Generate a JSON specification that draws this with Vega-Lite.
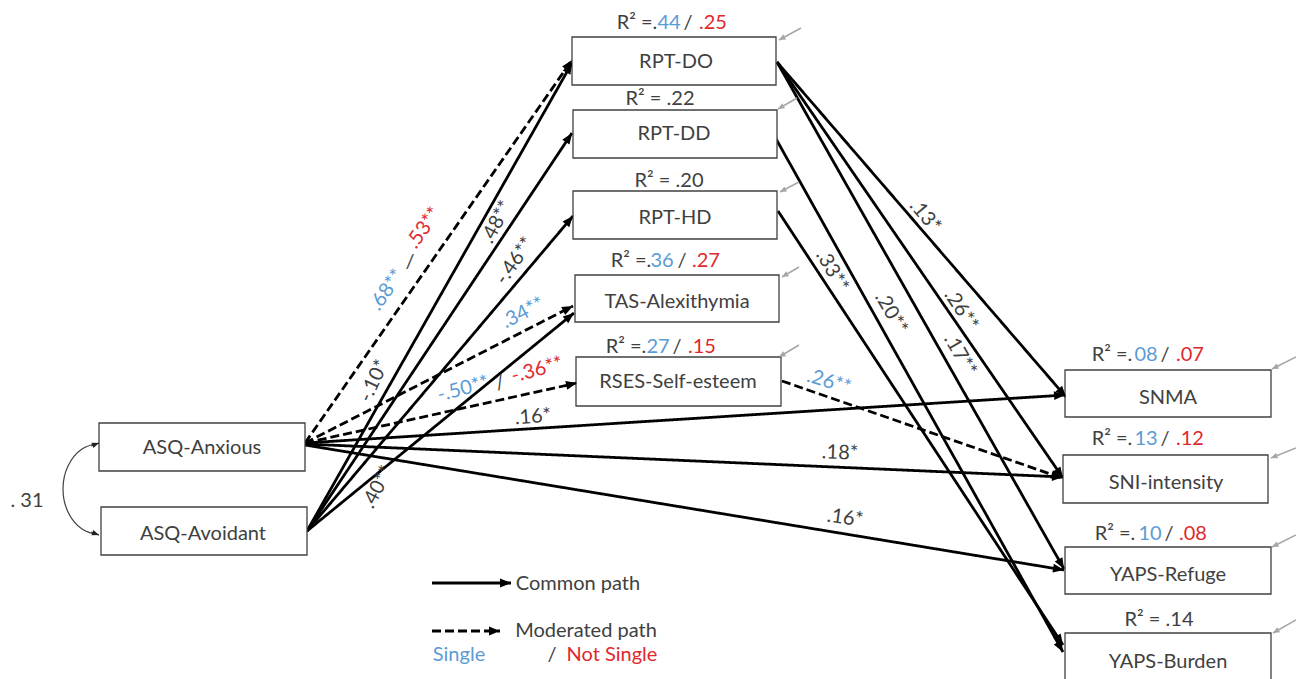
{
  "$schema": "https://vega.github.io/schema/vega-lite/v6.json",
  "width": 1296,
  "height": 679,
  "padding": 0,
  "autosize": {"type": "none"},
  "background": "white",
  "config": {"view": {"stroke": null}},
  "datasets": {
    "boxes": [
      {"n": "RPT-DO", "x1": 572, "x2": 776, "y1": 37, "y2": 85},
      {"n": "RPT-DD", "x1": 573, "x2": 777, "y1": 110, "y2": 158},
      {"n": "RPT-HD", "x1": 573, "x2": 777, "y1": 191, "y2": 239},
      {"n": "TAS", "x1": 575, "x2": 779, "y1": 275, "y2": 322},
      {"n": "RSES", "x1": 576, "x2": 781, "y1": 357, "y2": 406},
      {"n": "Anx", "x1": 99, "x2": 305, "y1": 423, "y2": 471},
      {"n": "Avo", "x1": 101, "x2": 307, "y1": 507, "y2": 555},
      {"n": "SNMA", "x1": 1065, "x2": 1271, "y1": 370, "y2": 417},
      {"n": "SNI", "x1": 1063, "x2": 1268, "y1": 455, "y2": 503},
      {"n": "Ref", "x1": 1065, "x2": 1271, "y1": 547, "y2": 594},
      {"n": "Bur", "x1": 1065, "x2": 1271, "y1": 633, "y2": 690}
    ],
    "lines": [
      {"kind": "dashed", "x1": 305, "y1": 443, "x2": 572, "y2": 60},
      {"kind": "dashed", "x1": 305, "y1": 443, "x2": 573, "y2": 306},
      {"kind": "dashed", "x1": 305, "y1": 443, "x2": 577, "y2": 383},
      {"kind": "solid", "x1": 305, "y1": 443, "x2": 1065, "y2": 395},
      {"kind": "solid", "x1": 305, "y1": 444, "x2": 1063, "y2": 477},
      {"kind": "solid", "x1": 305, "y1": 445, "x2": 1064, "y2": 570},
      {"kind": "solid", "x1": 307, "y1": 531, "x2": 572, "y2": 63},
      {"kind": "solid", "x1": 307, "y1": 531, "x2": 572, "y2": 133},
      {"kind": "solid", "x1": 307, "y1": 531, "x2": 573, "y2": 216},
      {"kind": "solid", "x1": 307, "y1": 531, "x2": 574, "y2": 313},
      {"kind": "dashed", "x1": 782, "y1": 381, "x2": 1062, "y2": 478},
      {"kind": "solid", "x1": 777, "y1": 62, "x2": 1066, "y2": 397},
      {"kind": "solid", "x1": 777, "y1": 62, "x2": 1063, "y2": 478},
      {"kind": "solid", "x1": 777, "y1": 62, "x2": 1064, "y2": 569},
      {"kind": "solid", "x1": 775, "y1": 137, "x2": 1063, "y2": 652},
      {"kind": "solid", "x1": 778, "y1": 211, "x2": 1063, "y2": 645},
      {"kind": "solid", "x1": 432, "y1": 583, "x2": 511, "y2": 583},
      {"kind": "dashed", "x1": 432, "y1": 631, "x2": 500, "y2": 631},
      {"kind": "gray", "x1": 801, "y1": 28, "x2": 779, "y2": 40},
      {"kind": "gray", "x1": 797, "y1": 98, "x2": 778, "y2": 109},
      {"kind": "gray", "x1": 799, "y1": 182, "x2": 780, "y2": 192},
      {"kind": "gray", "x1": 799, "y1": 267, "x2": 782, "y2": 277},
      {"kind": "gray", "x1": 799, "y1": 345, "x2": 779, "y2": 357},
      {"kind": "gray", "x1": 1296, "y1": 357, "x2": 1272, "y2": 369},
      {"kind": "gray", "x1": 1296, "y1": 448, "x2": 1271, "y2": 458},
      {"kind": "gray", "x1": 1296, "y1": 535, "x2": 1272, "y2": 547},
      {"kind": "gray", "x1": 1296, "y1": 620, "x2": 1273, "y2": 633},
      {"kind": "thin", "x1": 91, "y1": 446, "x2": 99, "y2": 443},
      {"kind": "thin", "x1": 91, "y1": 532, "x2": 99, "y2": 535}
    ],
    "curve": [
      {"i": 1, "x": 99, "y": 443},
      {"i": 2, "x": 82, "y": 449},
      {"i": 3, "x": 68, "y": 466},
      {"i": 4, "x": 63, "y": 489},
      {"i": 5, "x": 68, "y": 512},
      {"i": 6, "x": 82, "y": 529},
      {"i": 7, "x": 99, "y": 535}
    ],
    "texts": [
      {"t": "RPT-DO", "x": 676, "y": 62, "rot": 0, "c": "k"},
      {"t": "RPT-DD", "x": 674, "y": 134, "rot": 0, "c": "k"},
      {"t": "RPT-HD", "x": 675, "y": 218, "rot": 0, "c": "k"},
      {"t": "TAS-Alexithymia", "x": 677, "y": 302, "rot": 0, "c": "k"},
      {"t": "RSES-Self-esteem", "x": 678, "y": 382, "rot": 0, "c": "k"},
      {"t": "ASQ-Anxious", "x": 202, "y": 448, "rot": 0, "c": "k"},
      {"t": "ASQ-Avoidant", "x": 203, "y": 534, "rot": 0, "c": "k"},
      {"t": "SNMA", "x": 1168, "y": 398, "rot": 0, "c": "k"},
      {"t": "SNI-intensity", "x": 1166, "y": 483, "rot": 0, "c": "k"},
      {"t": "YAPS-Refuge", "x": 1168, "y": 575, "rot": 0, "c": "k"},
      {"t": "YAPS-Burden", "x": 1168, "y": 662, "rot": 0, "c": "k"},
      {"t": "R² =.", "x": 637, "y": 23, "rot": 0, "c": "k"},
      {"t": "44", "x": 669, "y": 23, "rot": 0, "c": "b"},
      {"t": "/", "x": 688, "y": 23, "rot": 0, "c": "k"},
      {"t": ".25", "x": 713, "y": 23, "rot": 0, "c": "r"},
      {"t": "R² = .22", "x": 660, "y": 99, "rot": 0, "c": "k"},
      {"t": "R² = .20", "x": 669, "y": 181, "rot": 0, "c": "k"},
      {"t": "R² =.", "x": 631, "y": 261, "rot": 0, "c": "k"},
      {"t": "36", "x": 662, "y": 261, "rot": 0, "c": "b"},
      {"t": "/", "x": 682, "y": 261, "rot": 0, "c": "k"},
      {"t": ".27", "x": 706, "y": 261, "rot": 0, "c": "r"},
      {"t": "R² =.", "x": 626, "y": 347, "rot": 0, "c": "k"},
      {"t": "27", "x": 658, "y": 347, "rot": 0, "c": "b"},
      {"t": "/", "x": 677, "y": 347, "rot": 0, "c": "k"},
      {"t": ".15", "x": 702, "y": 347, "rot": 0, "c": "r"},
      {"t": "R² =.", "x": 1112, "y": 355, "rot": 0, "c": "k"},
      {"t": "08", "x": 1146, "y": 355, "rot": 0, "c": "b"},
      {"t": "/", "x": 1165, "y": 355, "rot": 0, "c": "k"},
      {"t": ".07", "x": 1190, "y": 355, "rot": 0, "c": "r"},
      {"t": "R² =.", "x": 1112, "y": 439, "rot": 0, "c": "k"},
      {"t": "13", "x": 1146, "y": 439, "rot": 0, "c": "b"},
      {"t": "/", "x": 1165, "y": 439, "rot": 0, "c": "k"},
      {"t": ".12", "x": 1190, "y": 439, "rot": 0, "c": "r"},
      {"t": "R² =.", "x": 1115, "y": 534, "rot": 0, "c": "k"},
      {"t": "10", "x": 1150, "y": 534, "rot": 0, "c": "b"},
      {"t": "/", "x": 1169, "y": 534, "rot": 0, "c": "k"},
      {"t": ".08", "x": 1193, "y": 534, "rot": 0, "c": "r"},
      {"t": "R² = .14", "x": 1159, "y": 620, "rot": 0, "c": "k"},
      {"t": ".68**", "x": 387, "y": 290, "rot": -55, "c": "b"},
      {"t": "/", "x": 410, "y": 262, "rot": 0, "c": "k"},
      {"t": ".53**", "x": 424, "y": 228, "rot": -55, "c": "r"},
      {"t": ".48**", "x": 497, "y": 222, "rot": -62, "c": "k"},
      {"t": "-.46**", "x": 515, "y": 261, "rot": -55, "c": "k"},
      {"t": "-.10*", "x": 374, "y": 381, "rot": -65, "c": "k"},
      {"t": ".40**", "x": 378, "y": 487, "rot": -62, "c": "k"},
      {"t": ".34**", "x": 523, "y": 313, "rot": -27, "c": "b"},
      {"t": "-.50**", "x": 463, "y": 389, "rot": -15, "c": "b"},
      {"t": "/", "x": 500, "y": 383, "rot": -15, "c": "k"},
      {"t": "-.36**", "x": 537, "y": 370, "rot": -15, "c": "r"},
      {"t": ".16*", "x": 533, "y": 417, "rot": -4, "c": "k"},
      {"t": ".18*", "x": 840, "y": 453, "rot": 2, "c": "k"},
      {"t": ".16*", "x": 845, "y": 518, "rot": 8, "c": "k"},
      {"t": ".26**", "x": 829, "y": 382, "rot": 17, "c": "b"},
      {"t": ".13*", "x": 925, "y": 216, "rot": 50, "c": "k"},
      {"t": ".33**", "x": 832, "y": 271, "rot": 60, "c": "k"},
      {"t": ".20**", "x": 891, "y": 313, "rot": 60, "c": "k"},
      {"t": ".26**", "x": 961, "y": 310, "rot": 57, "c": "k"},
      {"t": ".17**", "x": 960, "y": 355, "rot": 60, "c": "k"},
      {"t": ". 31", "x": 27, "y": 501, "rot": 0, "c": "k"},
      {"t": "Common path", "x": 578, "y": 584, "rot": 0, "c": "k"},
      {"t": "Moderated path", "x": 586, "y": 631, "rot": 0, "c": "k"},
      {"t": "Single", "x": 459, "y": 655, "rot": 0, "c": "b"},
      {"t": "/", "x": 552, "y": 655, "rot": 0, "c": "k"},
      {"t": "Not Single", "x": 612, "y": 655, "rot": 0, "c": "r"}
    ]
  },
  "layer": [
    {
      "data": {"name": "lines"},
      "transform": [{"filter": "datum.kind == 'solid' || datum.kind == 'dashed'"}],
      "mark": {"type": "rule", "color": "#000000", "strokeWidth": 2.8, "strokeCap": "butt"},
      "encoding": {
        "x": {"field": "x1", "type": "quantitative", "scale": {"domain": [0, 1296], "nice": false, "zero": false}, "axis": null},
        "y": {"field": "y1", "type": "quantitative", "scale": {"domain": [0, 679], "nice": false, "zero": false, "reverse": true}, "axis": null},
        "x2": {"field": "x2"},
        "y2": {"field": "y2"},
        "strokeDash": {"field": "kind", "type": "nominal", "scale": {"domain": ["solid", "dashed"], "range": [[1, 0], [9, 4]]}, "legend": null}
      }
    },
    {
      "data": {"name": "lines"},
      "transform": [{"filter": "datum.kind == 'gray'"}],
      "mark": {"type": "rule", "color": "#A6A6A6", "strokeWidth": 1.5},
      "encoding": {
        "x": {"field": "x1", "type": "quantitative", "scale": {"domain": [0, 1296], "nice": false, "zero": false}, "axis": null},
        "y": {"field": "y1", "type": "quantitative", "scale": {"domain": [0, 679], "nice": false, "zero": false, "reverse": true}, "axis": null},
        "x2": {"field": "x2"},
        "y2": {"field": "y2"}
      }
    },
    {
      "data": {"name": "lines"},
      "transform": [{"filter": "datum.kind == 'thin'"}],
      "mark": {"type": "rule", "color": "#404040", "strokeWidth": 1.2},
      "encoding": {
        "x": {"field": "x1", "type": "quantitative", "scale": {"domain": [0, 1296], "nice": false, "zero": false}, "axis": null},
        "y": {"field": "y1", "type": "quantitative", "scale": {"domain": [0, 679], "nice": false, "zero": false, "reverse": true}, "axis": null},
        "x2": {"field": "x2"},
        "y2": {"field": "y2"}
      }
    },
    {
      "data": {"name": "curve"},
      "mark": {"type": "line", "interpolate": "natural", "color": "#404040", "strokeWidth": 1.2},
      "encoding": {
        "x": {"field": "x", "type": "quantitative", "scale": {"domain": [0, 1296], "nice": false, "zero": false}, "axis": null},
        "y": {"field": "y", "type": "quantitative", "scale": {"domain": [0, 679], "nice": false, "zero": false, "reverse": true}, "axis": null},
        "order": {"field": "i", "type": "quantitative"}
      }
    },
    {
      "data": {"name": "boxes"},
      "mark": {"type": "rect", "fill": "white", "stroke": "#404040", "strokeWidth": 1.3, "clip": true},
      "encoding": {
        "x": {"field": "x1", "type": "quantitative", "scale": {"domain": [0, 1296], "nice": false, "zero": false}, "axis": null},
        "y": {"field": "y1", "type": "quantitative", "scale": {"domain": [0, 679], "nice": false, "zero": false, "reverse": true}, "axis": null},
        "x2": {"field": "x2"},
        "y2": {"field": "y2"}
      }
    },
    {
      "data": {"name": "lines"},
      "transform": [
        {"filter": "datum.kind == 'solid' || datum.kind == 'dashed'"},
        {"calculate": "atan2(datum.y2 - datum.y1, datum.x2 - datum.x1) * 180 / PI", "as": "ang"}
      ],
      "mark": {"type": "point", "shape": "M0,0L-2,-0.8L-2,0.8Z", "filled": true, "color": "#000000", "opacity": 1, "size": 121, "strokeWidth": 0},
      "encoding": {
        "x": {"field": "x2", "type": "quantitative", "scale": {"domain": [0, 1296], "nice": false, "zero": false}, "axis": null},
        "y": {"field": "y2", "type": "quantitative", "scale": {"domain": [0, 679], "nice": false, "zero": false, "reverse": true}, "axis": null},
        "angle": {"field": "ang", "type": "quantitative", "scale": null}
      }
    },
    {
      "data": {"name": "lines"},
      "transform": [
        {"filter": "datum.kind == 'gray'"},
        {"calculate": "atan2(datum.y2 - datum.y1, datum.x2 - datum.x1) * 180 / PI", "as": "ang"}
      ],
      "mark": {"type": "point", "shape": "M0,0L-2,-0.9L-2,0.9Z", "filled": true, "color": "#A6A6A6", "opacity": 1, "size": 42, "strokeWidth": 0},
      "encoding": {
        "x": {"field": "x2", "type": "quantitative", "scale": {"domain": [0, 1296], "nice": false, "zero": false}, "axis": null},
        "y": {"field": "y2", "type": "quantitative", "scale": {"domain": [0, 679], "nice": false, "zero": false, "reverse": true}, "axis": null},
        "angle": {"field": "ang", "type": "quantitative", "scale": null}
      }
    },
    {
      "data": {"name": "lines"},
      "transform": [
        {"filter": "datum.kind == 'thin'"},
        {"calculate": "atan2(datum.y2 - datum.y1, datum.x2 - datum.x1) * 180 / PI", "as": "ang"}
      ],
      "mark": {"type": "point", "shape": "M0,0L-2,-0.8L-2,0.8Z", "filled": true, "color": "#222222", "opacity": 1, "size": 49, "strokeWidth": 0},
      "encoding": {
        "x": {"field": "x2", "type": "quantitative", "scale": {"domain": [0, 1296], "nice": false, "zero": false}, "axis": null},
        "y": {"field": "y2", "type": "quantitative", "scale": {"domain": [0, 679], "nice": false, "zero": false, "reverse": true}, "axis": null},
        "angle": {"field": "ang", "type": "quantitative", "scale": null}
      }
    },
    {
      "data": {"name": "texts"},
      "mark": {"type": "text", "font": "Lato", "fontSize": 20, "align": "center", "baseline": "middle"},
      "encoding": {
        "x": {"field": "x", "type": "quantitative", "scale": {"domain": [0, 1296], "nice": false, "zero": false}, "axis": null},
        "y": {"field": "y", "type": "quantitative", "scale": {"domain": [0, 679], "nice": false, "zero": false, "reverse": true}, "axis": null},
        "text": {"field": "t"},
        "angle": {"field": "rot", "type": "quantitative", "scale": null},
        "color": {"field": "c", "type": "nominal", "scale": {"domain": ["k", "b", "r"], "range": ["#404040", "#5B9BD5", "#E0282E"]}, "legend": null}
      }
    }
  ]
}
